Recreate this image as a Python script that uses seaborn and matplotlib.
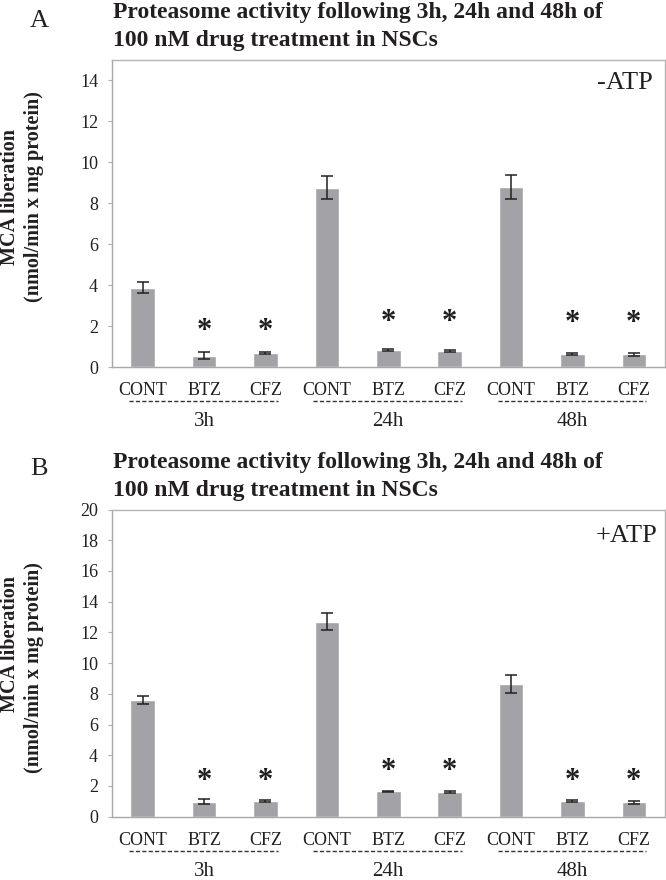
import matplotlib
matplotlib.use("Agg")
import matplotlib.pyplot as plt
import matplotlib.transforms as mtrans
import seaborn as sns
import pandas as pd

# ---------------- data ----------------
times = ["3h", "24h", "48h"]
drugs = ["CONT", "BTZ", "CFZ"]

minus_atp = [3.88, 0.55, 0.68, 8.77, 0.83, 0.80, 8.80, 0.62, 0.63]
minus_atp_err = [0.26, 0.16, 0.06, 0.56, 0.06, 0.05, 0.60, 0.04, 0.07]
plus_atp = [7.60, 0.98, 1.02, 12.70, 1.65, 1.61, 8.63, 1.02, 0.94]
plus_atp_err = [0.25, 0.15, 0.05, 0.57, 0.05, 0.05, 0.60, 0.05, 0.10]

# asterisk heights (data units), None = no asterisk
minus_star = [None, 1.72, 1.72, None, 2.16, 2.16, None, 2.13, 2.13]
plus_star = [None, 2.28, 2.28, None, 2.94, 2.94, None, 2.28, 2.28]

title_lines = ["Proteasome activity following 3h, 24h and 48h of",
               "100 nM drug treatment in NSCs"]
ylabel_lines = ["MCA liberation", "(nmol/min x mg protein)"]

# ---------------- style ----------------
sns.set_style("white")
plt.rcParams['font.family'] = ['Liberation Serif', 'DejaVu Serif']
TXT = '#231f20'
BAR = '#a3a3a7'

W, H = 666, 880
fig = plt.figure(figsize=(W / 100, H / 100), dpi=100)


def fx(px):
    return px / W


def fy(py):
    return 1 - py / H


def panel(top_px, bottom_px, vals, errs, stars, ymax, tag, cond, tag_xy,
          ylab_pos):
    ax = fig.add_axes([fx(112), fy(bottom_px), fx(664.5) - fx(112),
                       (bottom_px - top_px) / H])
    keys = [f"{d} {t}" for t in times for d in drugs]
    df = pd.DataFrame({"key": keys, "val": vals})
    sns.barplot(data=df, x="key", y="val", order=keys, color=BAR,
                saturation=1, width=0.40, errorbar=None, ax=ax)
    ax.errorbar(range(len(keys)), vals, yerr=errs, fmt='none',
                ecolor=TXT, elinewidth=1.1, capsize=4.3, capthick=1.1,
                zorder=3)
    for i, s in enumerate(stars):
        if s is not None:
            ax.text(i, s, "*", ha='center', va='center', fontsize=22,
                    fontweight='bold', color=TXT)
    ax.set_xlim(-0.5, len(keys) - 0.5)
    ax.set_ylim(0, ymax)
    ax.set_yticks(range(0, ymax if ymax % 2 else ymax + 1, 2))
    ax.set_xticks(range(len(keys)))
    ax.set_xticklabels(drugs * len(times))
    ax.set_xlabel("")
    ax.set_ylabel("")
    ax.tick_params(axis='y', length=3, width=0.8, color='#b0b0b0',
                   pad=7, labelsize=13, labelcolor=TXT, left=True)
    ax.tick_params(axis='x', length=0, pad=11, labelsize=13,
                   labelcolor=TXT)
    for sp in ax.spines.values():
        sp.set_visible(True)
        sp.set_color('#b4b4b4')
        sp.set_linewidth(1.0)
    ax.spines['left'].set_color('#a8a8a8')
    ax.spines['bottom'].set_color('#a8a8a8')

    trans = mtrans.blended_transform_factory(ax.transData, ax.transAxes)
    hpx = bottom_px - top_px
    for g, t in enumerate(times):
        i0 = g * 3
        ax.plot([i0 - 0.22, i0 + 2.2], [-34 / hpx, -34 / hpx],
                transform=trans, clip_on=False, color='#333333',
                lw=1.0, ls=(0, (3, 1.6)))
        ax.text(i0 + 1, -55 / hpx, t, transform=trans, ha='center',
                va='center', fontsize=15, color=TXT)

    ax.text(cond[0], cond[1], cond[2], transform=ax.transAxes,
            ha='right', va='top', fontsize=19, color=TXT)

    # panel letter & title
    fig.text(fx(tag_xy[0]), fy(tag_xy[1]), tag, ha='left', va='baseline',
             fontsize=19, color=TXT)
    base2 = top_px - 14
    fig.text(fx(113), fy(base2 - 28), title_lines[0], ha='left',
             va='baseline', fontsize=17, fontweight='bold', color=TXT)
    fig.text(fx(113), fy(base2), title_lines[1], ha='left',
             va='baseline', fontsize=17, fontweight='bold', color=TXT)

    # y label (two separate lines)
    fig.text(fx(ylab_pos[0]), fy(ylab_pos[1]), ylabel_lines[0],
             rotation=90, ha='center', va='center', fontsize=14.5,
             fontweight='bold', color=TXT)
    fig.text(fx(ylab_pos[2]), fy(ylab_pos[3]), ylabel_lines[1],
             rotation=90, ha='center', va='center', fontsize=14.5,
             fontweight='bold', color=TXT)
    return ax


panel(60, 367, minus_atp, minus_atp_err, minus_star, 15, "A",
      (0.978, 0.961, "-ATP"), (30, 27), (10, 197, 34, 197))
panel(509.5, 816.7, plus_atp, plus_atp_err, plus_star, 20, "B",
      (0.987, 0.95, "+ATP"), (30, 475), (10, 644, 34, 668))

fig.savefig("out.png", dpi=100)
